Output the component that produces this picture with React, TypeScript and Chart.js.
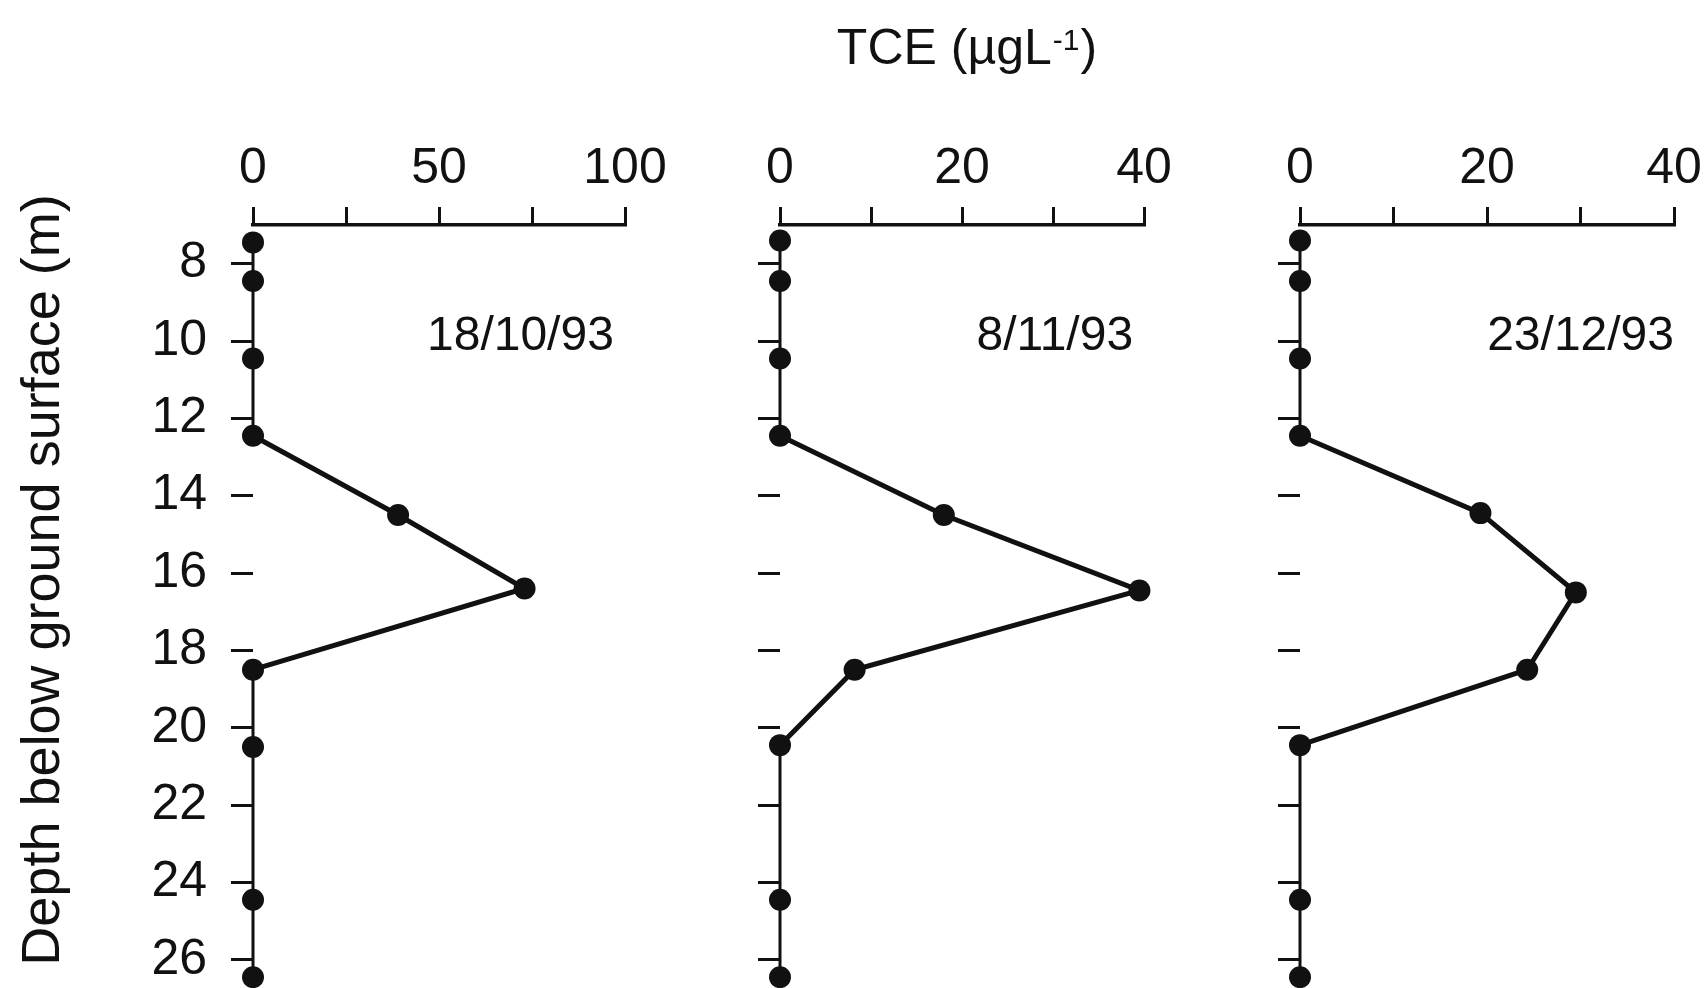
import React, { useEffect, useRef } from "react";
import { Chart, registerables } from "chart.js";

Chart.register(...registerables);

// ---------- data ----------
const DEPTH_TICKS = [8, 10, 12, 14, 16, 18, 20, 22, 24, 26];

const DEPTH_1 = [7.45, 8.45, 10.45, 12.45, 14.5, 16.4, 18.5, 20.5, 24.45, 26.45];
const TCE_1 = [0, 0, 0, 0, 39, 73, 0, 0, 0, 0];

const DEPTH_2 = [7.4, 8.45, 10.45, 12.45, 14.5, 16.45, 18.5, 20.45, 24.45, 26.45];
const TCE_2 = [0, 0, 0, 0, 18, 39.5, 8.2, 0, 0, 0];

const DEPTH_3 = [7.4, 8.45, 10.45, 12.45, 14.45, 16.5, 18.5, 20.45, 24.45, 26.45];
const TCE_3 = [0, 0, 0, 0, 19.3, 29.5, 24.3, 0, 0, 0];

const X_TICKS_1 = [0, 25, 50, 75, 100];
const X_LABELS_1 = [0, 50, 100];
const X_TICKS_23 = [0, 10, 20, 30, 40];
const X_LABELS_23 = [0, 20, 40];

const DATES = ["18/10/93", "8/11/93", "23/12/93"];
const TITLE_MAIN = "TCE (\u00b5gL";
const TITLE_SUP = "-1";
const TITLE_END = ")";
const Y_TITLE = "Depth below ground surface (m)";

// ---------- layout / style ----------
const Y_MIN = 7;
const Y_MAX = 26.73;
const X_AXIS_H = 225;
const H = 988;
const FONT = "'Liberation Sans', Arial, Helvetica, sans-serif";
const INK = "#111";
const DATE_DEPTH = 9.9;

type Panel = {
  left: number;
  width: number;
  yWidth: number;
  padRight: number;
  xMax: number;
  xTicks: number[];
  xLabels: number[];
  depths: number[];
  values: number[];
  date: string;
  dateX: number;
  showYLabels: boolean;
  yTitle: boolean;
  topTitle: boolean;
};

const PANELS: Panel[] = [
  { left: 0, width: 700, yWidth: 253, padRight: 75, xMax: 100, xTicks: X_TICKS_1, xLabels: X_LABELS_1,
    depths: DEPTH_1, values: TCE_1, date: DATES[0], dateX: 97, showYLabels: true, yTitle: true, topTitle: false },
  { left: 700, width: 500, yWidth: 80, padRight: 56, xMax: 40, xTicks: X_TICKS_23, xLabels: X_LABELS_23,
    depths: DEPTH_2, values: TCE_2, date: DATES[1], dateX: 38.8, showYLabels: false, yTitle: false, topTitle: true },
  { left: 1200, width: 508, yWidth: 100, padRight: 34, xMax: 40, xTicks: X_TICKS_23, xLabels: X_LABELS_23,
    depths: DEPTH_3, values: TCE_3, date: DATES[2], dateX: 40, showYLabels: false, yTitle: false, topTitle: false },
];

function makeTextPlugin(p: Panel) {
  return {
    id: "panelText",
    afterDatasetsDraw(chart: any) {
      const ctx = chart.ctx as CanvasRenderingContext2D;
      const xs = chart.scales.x;
      const ys = chart.scales.y;
      ctx.save();
      ctx.fillStyle = INK;
      ctx.font = `48px ${FONT}`;
      ctx.textAlign = "right";
      ctx.textBaseline = "middle";
      ctx.fillText(p.date, xs.getPixelForValue(p.dateX), ys.getPixelForValue(DATE_DEPTH));

      if (p.yTitle) {
        ctx.save();
        ctx.translate(44, 580);
        ctx.rotate(-Math.PI / 2);
        ctx.font = `54px ${FONT}`;
        ctx.textAlign = "center";
        ctx.textBaseline = "middle";
        ctx.fillText(Y_TITLE, 0, 0);
        ctx.restore();
      }

      if (p.topTitle) {
        const big = `50px ${FONT}`;
        const small = `30px ${FONT}`;
        ctx.textAlign = "left";
        ctx.textBaseline = "alphabetic";
        ctx.font = big;
        const w1 = ctx.measureText(TITLE_MAIN).width;
        const w3 = ctx.measureText(TITLE_END).width;
        ctx.font = small;
        const w2 = ctx.measureText(TITLE_SUP).width;
        const total = w1 + w2 + 2 + w3;
        const cx = 967 - p.left;
        const base = 64;
        let x = cx - total / 2;
        ctx.font = big;
        ctx.fillText(TITLE_MAIN, x, base);
        x += w1 + 1;
        ctx.font = small;
        ctx.fillText(TITLE_SUP, x, base - 14);
        x += w2 + 1;
        ctx.font = big;
        ctx.fillText(TITLE_END, x, base);
      }
      ctx.restore();
    },
  };
}

function PanelChart({ p }: { p: Panel }) {
  const ref = useRef<HTMLCanvasElement>(null);
  useEffect(() => {
    const canvas = ref.current;
    if (!canvas) return;
    const chart = new Chart(canvas, {
      type: "scatter",
      data: {
        datasets: [
          {
            data: p.depths.map((d, i) => ({ x: p.values[i], y: d })),
            showLine: true,
            borderColor: INK,
            backgroundColor: INK,
            pointBackgroundColor: INK,
            pointBorderColor: INK,
            pointRadius: 11,
            pointHoverRadius: 11,
            pointBorderWidth: 0,
            borderWidth: 5,
            clip: false as any,
            segment: {
              borderWidth: (c: any) => (c.p0.parsed.x === 0 && c.p1.parsed.x === 0 ? 3 : 5),
            },
          } as any,
        ],
      },
      options: {
        responsive: false,
        animation: false,
        events: [],
        layout: { autoPadding: false, padding: { left: 0, top: 0, bottom: 0, right: p.padRight } },
        plugins: { legend: { display: false }, tooltip: { enabled: false }, title: { display: false } },
        scales: {
          x: {
            type: "linear",
            position: "top",
            min: 0,
            max: p.xMax,
            afterBuildTicks: (s: any) => {
              s.ticks = p.xTicks.map((v) => ({ value: v }));
            },
            afterFit: (s: any) => {
              s.height = X_AXIS_H;
              s.paddingLeft = 0;
              s.paddingRight = 0;
              s.paddingTop = 0;
              s.paddingBottom = 0;
            },
            border: { display: true, color: INK, width: 3.5 },
            grid: { display: true, drawOnChartArea: false, drawTicks: true, tickLength: 18, color: INK, lineWidth: 3 },
            ticks: {
              color: INK,
              font: { family: FONT, size: 50 },
              padding: 8,
              maxRotation: 0,
              minRotation: 0,
              autoSkip: false,
              callback: (v: any) => (p.xLabels.includes(Number(v)) ? String(v) : ""),
            },
          },
          y: {
            type: "linear",
            position: "left",
            reverse: true,
            min: Y_MIN,
            max: Y_MAX,
            afterBuildTicks: (s: any) => {
              s.ticks = DEPTH_TICKS.map((v) => ({ value: v }));
            },
            afterFit: (s: any) => {
              s.width = p.yWidth;
              s.paddingLeft = 0;
              s.paddingRight = 0;
              s.paddingTop = 0;
              s.paddingBottom = 0;
            },
            border: { display: false },
            grid: { display: true, drawOnChartArea: false, drawTicks: true, tickLength: 22, color: INK, lineWidth: 3 },
            ticks: {
              display: p.showYLabels,
              color: INK,
              font: { family: FONT, size: 50 },
              padding: 24,
              autoSkip: false,
            },
          },
        },
      } as any,
      plugins: [makeTextPlugin(p)],
    });
    return () => chart.destroy();
  }, [p]);
  return (
    <canvas
      ref={ref}
      width={p.width}
      height={H}
      style={{ position: "absolute", left: p.left, top: 0, width: p.width, height: H }}
    />
  );
}

export default function App() {
  return (
    <div style={{ position: "fixed", left: 0, top: 0, width: 1708, height: H, background: "#fff", overflow: "hidden" }}>
      {PANELS.map((p, i) => (
        <PanelChart key={i} p={p} />
      ))}
    </div>
  );
}
